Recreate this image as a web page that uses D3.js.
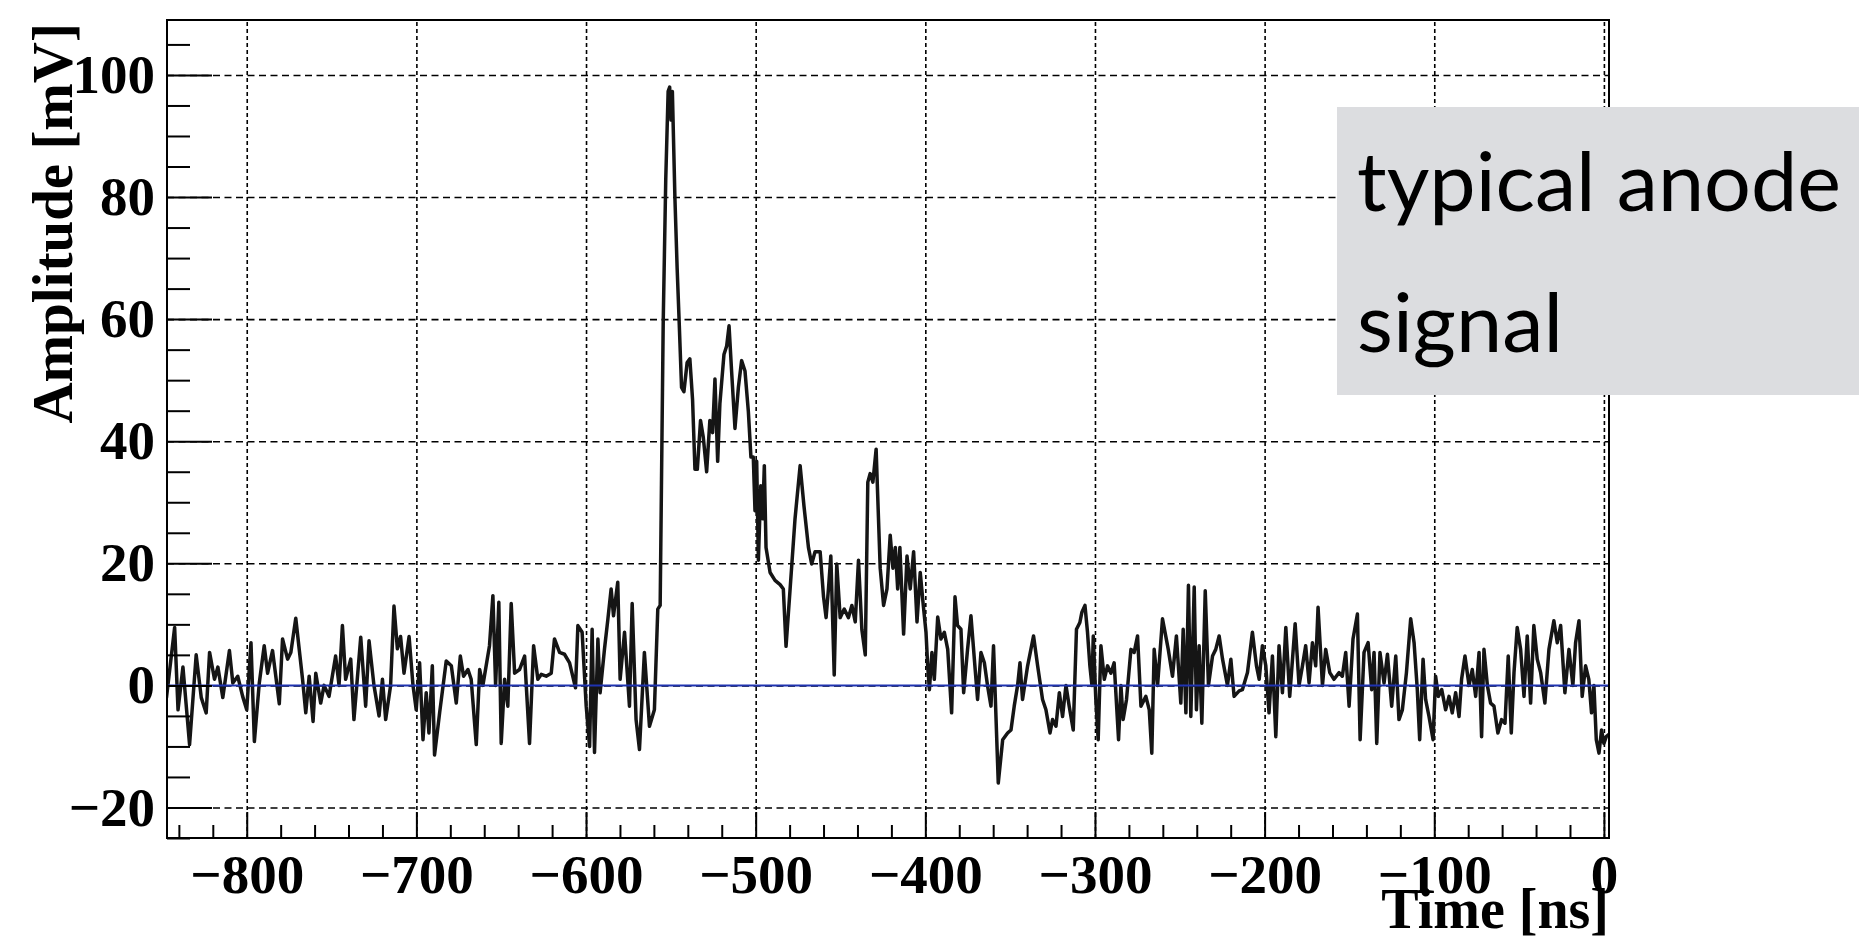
<!DOCTYPE html>
<html><head><meta charset="utf-8">
<script src="https://cdn.jsdelivr.net/npm/d3@7"></script>
<style>body{margin:0;background:#fff;}svg{display:block;}</style>
</head><body>
<svg id="chart" width="1859" height="940"></svg>
<script>
// ---- data (time in ns, amplitude in mV) ----
const preTrigger = [
[-849,-3],[-847.3,-2],[-842.5,9.5],[-840.5,-4],[-837.6,3],[-833.7,-9.7],[-829.8,5],[-826.8,-2],[-823.9,-4.5],[-821.9,5.4],
[-819,1],[-817,3],[-814.1,-2],[-810.2,5.7],[-808.2,0.4],[-805.3,1.5],[-802.4,-1.8],[-800,-4],[-797.5,7],[-795.5,-9.2],
[-792.6,0.4],[-789.7,6.5],[-787.7,2],[-784.8,5.7],[-780.8,-3],[-778.9,7.6],[-775.9,4.3],[-774,5.4],[-771.1,11],[-769.1,6],
[-767.1,1],[-765.2,-4.5],[-763.2,1.5],[-760.9,-5.9],[-759.3,2],[-756.4,-2.9],[-754.4,0],[-751.5,-1.8],[-747.6,4.8],[-745.6,0],
[-743.6,9.8],[-741.7,1],[-738.7,4.3],[-736.8,-5.6],[-732.8,7.9],[-729.9,-3.4],[-727.9,7.3],[-725,0],[-722,-5],[-720,1],
[-718.1,-5.6],[-715.2,0],[-713.2,13],[-711.2,6],[-709.3,8],[-707.3,2],[-704.3,8],[-702,0],[-700.1,-4],[-698.1,3.7],
[-696.1,-8.9],[-694.2,-1.2],[-692.6,-7.8],[-690.6,3.2],[-689.3,-11.4],[-686.3,-4.5],[-682.4,4],[-679.4,3.2],[-676.5,-2.9],[-674.1,4.8],
[-672.2,1.5],[-669.6,2.6],[-667.7,1],[-664.7,-9.7],[-662.7,2.6],[-660.8,0],[-656.9,6.5],[-654.9,14.7],[-653.3,0],[-651.4,13.6],
[-650,-9.5],[-648,1],[-646.1,-3.4],[-644.1,13.4],[-642.1,2],[-639.2,2.6],[-636.2,4.8],[-633.3,-9.5],[-630.9,6.5],[-628.4,1],
[-626.4,1.8],[-623.5,1.5],[-620.5,2],[-618.6,7.6],[-615.6,5.4],[-612.7,5.1],[-609.7,3.7],[-606.2,-0.4],[-604.8,9.8],[-602.3,8.7],
[-599.9,-3.4],[-597.9,-10],[-596.4,9.2],[-595,-11],[-593,7.6],[-591.7,-1.2],[-589.1,6],[-587.1,10.9],[-585.2,15.8],[-583.8,11.4],
[-581.3,16.9],[-579.9,1],[-577.3,8.7],[-574.4,-3.4],[-572.8,13.4],[-570.5,-5.6],[-568.5,-10.5],[-565.6,5.4],[-562.6,-6.7],[-559.7,-4],
[-557.7,12.5],[-556.3,13.1]
];
const pulse = [
[-554.5,59.6],[-553,83],[-551.6,97.3],[-550.7,98],[-549.9,92.6],[-549.1,97.3],[-547.6,79.8],[-546.3,68.4],[-545.1,59.6],[-543.7,48.8],
[-542.3,48.1],[-540.4,52.9],[-538.8,53.5],[-537.2,46.8],[-535.8,35.4],[-534.4,35.4],[-532.5,43.4],[-530.9,40.7],[-528.9,35],[-527,43.4],
[-525.4,41.4],[-524,50.2],[-522.4,36.7],[-521.1,46.1],[-518.7,54.2],[-517.1,55.6],[-515.7,58.9],[-514.2,51.5],[-512.2,42.1],[-510.2,48.8],
[-508.3,53.2],[-506.3,51.5],[-504.3,44.8],[-502.8,37.4],[-501.4,37.4],[-500.4,28.6],[-499.4,36.7],[-498.4,20.5],[-497,32.7],[-495.9,27.3],
[-494.9,36],[-493.9,22.6],[-491.5,18.5],[-488.6,17.2],[-485.6,16.5],[-483.7,15.8],[-482.1,6.4],[-479.7,15.8],[-476.8,27.3],[-473.8,36],
[-471.5,29.3],[-468.9,22.6],[-467,19.9],[-465,21.9],[-462,21.9],[-460,14.5],[-458.5,11.1],[-457.1,15.8],[-455.7,21.2],[-453.7,1.7],
[-452.2,19.9],[-450.2,11.1],[-447.8,12.5],[-445.3,11.1],[-443.3,13.1],[-441.3,10.4],[-439.4,20.5],[-437.4,9.1],[-435.4,5],[-433.9,33.3],
[-432.5,34.7],[-430.9,33.3],[-429,38.7],[-428.1,31.3],[-426.6,19.2],[-424.6,13.1],[-422.6,15.8],[-420.7,24.6],[-419.1,19.2],[-417.7,22.6],
[-416.3,15.8],[-415,22.6],[-412.8,8.4],[-410.8,21.2],[-408.9,15.8],[-406.9,21.9],[-404.9,10.4],[-403,18.5]
];
const tail = [
[-401.2,13.1],[-399.6,8.7],[-398.6,3.2],[-397.6,-0.7],[-396.1,5.4],[-394.7,1],[-392.7,11.2],[-390.8,7.6],[-388.8,8.7],[-386.8,5.9],
[-384.5,-4.5],[-382.5,14.5],[-381,9.8],[-379,9.2],[-377.4,-1.2],[-375.1,5.9],[-373.1,11.4],[-371.1,4.3],[-369.2,-2.3],[-367.2,5.4],
[-365.2,3.7],[-363.3,-0.1],[-361.3,-3.4],[-359.8,6.5],[-357,-16],[-354.4,-8.9],[-351.5,-7.8],[-349.5,-7.3],[-347.6,-3.4],[-345.6,0],
[-344.2,3.7],[-342.7,-2.3],[-339.7,3.2],[-336.2,8.1],[-333.8,3.2],[-330.9,-2.3],[-328.9,-4],[-326.5,-7.8],[-325,-5.6],[-323,-6.7],
[-321,-1.2],[-319.1,-5.1],[-317.1,0],[-315.2,-3.4],[-312.8,-7.3],[-310.9,9.2],[-308.9,10.3],[-307.7,12],[-305.9,13.1],[-304.4,8.7],
[-303,3.2],[-301.8,0],[-301,8.1],[-299.5,-2.3],[-298.1,-8.9],[-296.5,6.5],[-294.5,1],[-292.6,3.2],[-290.6,2],[-288.7,3.7],
[-286.1,-8.9],[-284.7,0],[-283.4,-5.6],[-281.4,-2.3],[-278.8,5.9],[-276.9,5.4],[-274.9,8.1],[-272.9,-3.4],[-270,-1.8],[-268,-4],
[-266.5,-11.1],[-265.1,5.9],[-263.1,0],[-260.2,10.9],[-256.8,5.9],[-254.3,1.5],[-252,8.1],[-249.4,-2.9],[-248,9.2],[-246.4,-4.5],
[-244.9,16.4],[-243.5,-5.1],[-241.5,16.1],[-240.2,-4],[-238.6,6.5],[-237,-6.2],[-235,15.5],[-233.1,0],[-230.7,4.8],[-228.8,5.9],
[-226.8,8.1],[-224.8,4.3],[-221.9,0],[-219.9,4.3],[-218,-1.8],[-215,-0.9],[-213.1,-0.7],[-210.1,2.1],[-207.2,8.7],[-204.8,3.2],
[-203.2,1],[-201.3,6.5],[-199.3,3.2],[-197.4,-4.5],[-195.4,4.8],[-193.4,-8.4],[-191.5,6.5],[-189.5,-1.2],[-187.5,9.5],[-185.2,-1.8],
[-182,10.1],[-179.7,0],[-177.7,3.2],[-175.8,6.5],[-173.8,0.4],[-171.8,7],[-169.9,3.2],[-168.5,12.8],[-165.9,0],[-164,5.9],
[-161.6,2.1],[-159.1,1],[-156.1,2.1],[-154.2,1.5],[-152.2,5.4],[-150.2,-3.4],[-147.9,7.6],[-145.3,11.7],[-143.7,-8.9],[-141.4,5.4],
[-139,7],[-136.9,-0.7],[-135.5,5.4],[-133.9,-9.5],[-132,5.4],[-129.6,0.4],[-127.6,5.1],[-125.1,-3.4],[-122.7,4.8],[-120.8,-5.6],
[-118.8,-4],[-116.4,2.1],[-113.9,10.9],[-111.9,7],[-110,-0.7],[-108.6,-8.9],[-106.6,4.3],[-105.1,-2.3],[-103.1,-5.1],[-100.7,-8.9],
[-99.2,1.5],[-97.6,-1.8],[-95.6,-0.7],[-93.3,-4],[-91.3,-1.8],[-89.4,-4.5],[-87.4,-1.2],[-85.4,-5.1],[-83.9,1],[-81.9,4.8],
[-79.5,0],[-77.6,2.6],[-75.6,-1.8],[-73.6,5.4],[-72.1,-8.4],[-70.7,5.9],[-68.7,0],[-66.8,-2.9],[-64.8,-3.4],[-62.5,-7.8],
[-60.3,-5.6],[-58.3,-6.2],[-56.4,4.8],[-54.6,-7.8],[-53,2.1],[-51.1,9.5],[-49.1,5.9],[-47.1,-1.8],[-45.2,8.1],[-43.2,-2.9],
[-41.3,9.8],[-39.3,4.3],[-37.3,2.1],[-34.8,-2.9],[-32.4,5.9],[-29.5,10.6],[-27.5,7],[-25.5,9.8],[-23,-1.2],[-20.6,5.9],
[-18.3,0],[-16.7,7],[-14.7,10.6],[-12.8,-1.8],[-10.8,3.2],[-8.9,1],[-7.3,-4.5],[-5.9,0],[-4.5,-8.9],[-2.9,-11.1],
[-1.4,-7.3],[0,-9.5],[1.4,-8.4],[3,-8]
];
const xMajorTicks = [-800,-700,-600,-500,-400,-300,-200,-100,0];
const yMajorTicks = [-20,0,20,40,60,80,100];
const xDomain = [-847, 3];
const yDomain = [-25, 109];
const baselineLevel = [0];
const xTitle = "Time [ns]";
const yTitle = "Amplitude [mV]";
const noteLines = ["typical anode", "signal"];

// ---- layout ----
const svg = d3.select("#chart");
const L = 167, R = 1609, T = 20, B = 838;
const x = d3.scaleLinear().domain(xDomain).range([L, R]);
const y = d3.scaleLinear().domain(yDomain).range([B, T]);
const serif = "'Liberation Serif','Times New Roman',serif";
const fmt = v => (v < 0 ? "\u2212" + Math.abs(v) : String(v));

svg.append("defs").append("clipPath").attr("id","plotclip")
  .append("rect").attr("x",L).attr("y",T).attr("width",R-L).attr("height",B-T);

// grid
const gGrid = svg.append("g");
gGrid.append("g").attr("transform",`translate(${L},0)`)
  .call(d3.axisLeft(y).tickValues(yMajorTicks).tickSize(-(R-L)).tickFormat(""))
  .call(g=>g.select(".domain").remove())
  .call(g=>g.selectAll("line").attr("stroke","#000").attr("stroke-width",1.6).attr("stroke-dasharray","7,4.5"));
gGrid.append("g").attr("transform",`translate(0,${B})`)
  .call(d3.axisBottom(x).tickValues(xMajorTicks).tickSize(-(B-T)).tickFormat(""))
  .call(g=>g.select(".domain").remove())
  .call(g=>g.selectAll("line").attr("stroke","#000").attr("stroke-width",1.6).attr("stroke-dasharray","4,3"));

// waveform
const samples = preTrigger.concat(pulse, tail);
svg.append("path").datum(samples)
  .attr("clip-path","url(#plotclip)")
  .attr("fill","none").attr("stroke","#151515").attr("stroke-width",3.5)
  .attr("stroke-linejoin","round")
  .attr("d", d3.line().x(d=>x(d[0])).y(d=>y(d[1])));

// baseline
svg.selectAll(".base").data(baselineLevel).enter().append("line")
  .attr("x1",L).attr("x2",R).attr("y1",d=>y(d)).attr("y2",d=>y(d))
  .attr("stroke","#1f33b0").attr("stroke-width",2);

// y axis ticks + labels
const yMinor = d3.range(-25, 110, 5).filter(v=>!yMajorTicks.includes(v));
svg.append("g").attr("transform",`translate(${L},0)`)
  .call(d3.axisLeft(y).tickValues(yMinor).tickSize(-23).tickFormat(""))
  .call(g=>g.select(".domain").remove())
  .call(g=>g.selectAll("line").attr("stroke","#000").attr("stroke-width",2));
svg.append("g").attr("transform",`translate(${L},0)`)
  .call(d3.axisLeft(y).tickValues(yMajorTicks).tickSize(-45).tickPadding(12).tickFormat(fmt))
  .call(g=>g.select(".domain").remove())
  .call(g=>g.selectAll("line").attr("stroke","#000").attr("stroke-width",2))
  .call(g=>g.selectAll("text").attr("fill","#000").style("font-family",serif)
      .style("font-weight","bold").style("font-size","55px"));

// x axis ticks + labels
const xMinor = d3.range(-840, 1, 20).filter(v=>!xMajorTicks.includes(v));
svg.append("g").attr("transform",`translate(0,${B})`)
  .call(d3.axisBottom(x).tickValues(xMinor).tickSize(-13).tickFormat(""))
  .call(g=>g.select(".domain").remove())
  .call(g=>g.selectAll("line").attr("stroke","#000").attr("stroke-width",2));
svg.append("g").attr("transform",`translate(0,${B})`)
  .call(d3.axisBottom(x).tickValues(xMajorTicks).tickSize(-26).tickPadding(16).tickFormat(fmt))
  .call(g=>g.select(".domain").remove())
  .call(g=>g.selectAll("line").attr("stroke","#000").attr("stroke-width",2))
  .call(g=>g.selectAll("text").attr("fill","#000").style("font-family",serif)
      .style("font-weight","bold").style("font-size","55px"));

// frame
svg.append("rect").attr("x",L).attr("y",T).attr("width",R-L).attr("height",B-T)
  .attr("fill","none").attr("stroke","#000").attr("stroke-width",2);

// titles
svg.append("text").attr("x",R).attr("y",928).attr("text-anchor","end")
  .style("font-family",serif).style("font-weight","bold").style("font-size","56px")
  .text(xTitle);
svg.append("text").attr("transform","translate(72,23) rotate(-90)").attr("text-anchor","end")
  .style("font-family",serif).style("font-weight","bold").style("font-size","57px")
  .text(yTitle);

// annotation box
const noteWidths = [484, 206];
svg.append("rect").attr("x",1337).attr("y",107).attr("width",522).attr("height",288)
  .attr("fill","#dcdde0");
svg.selectAll(".note").data(noteLines).enter().append("text")
  .attr("x",1357).attr("y",(d,i)=>211+i*141)
  .attr("textLength",(d,i)=>noteWidths[i]).attr("lengthAdjust","spacingAndGlyphs")
  .style("font-family","Lato, 'Open Sans', sans-serif").style("font-size","81px")
  .attr("fill","#000").text(d=>d);
</script>
</body></html>
